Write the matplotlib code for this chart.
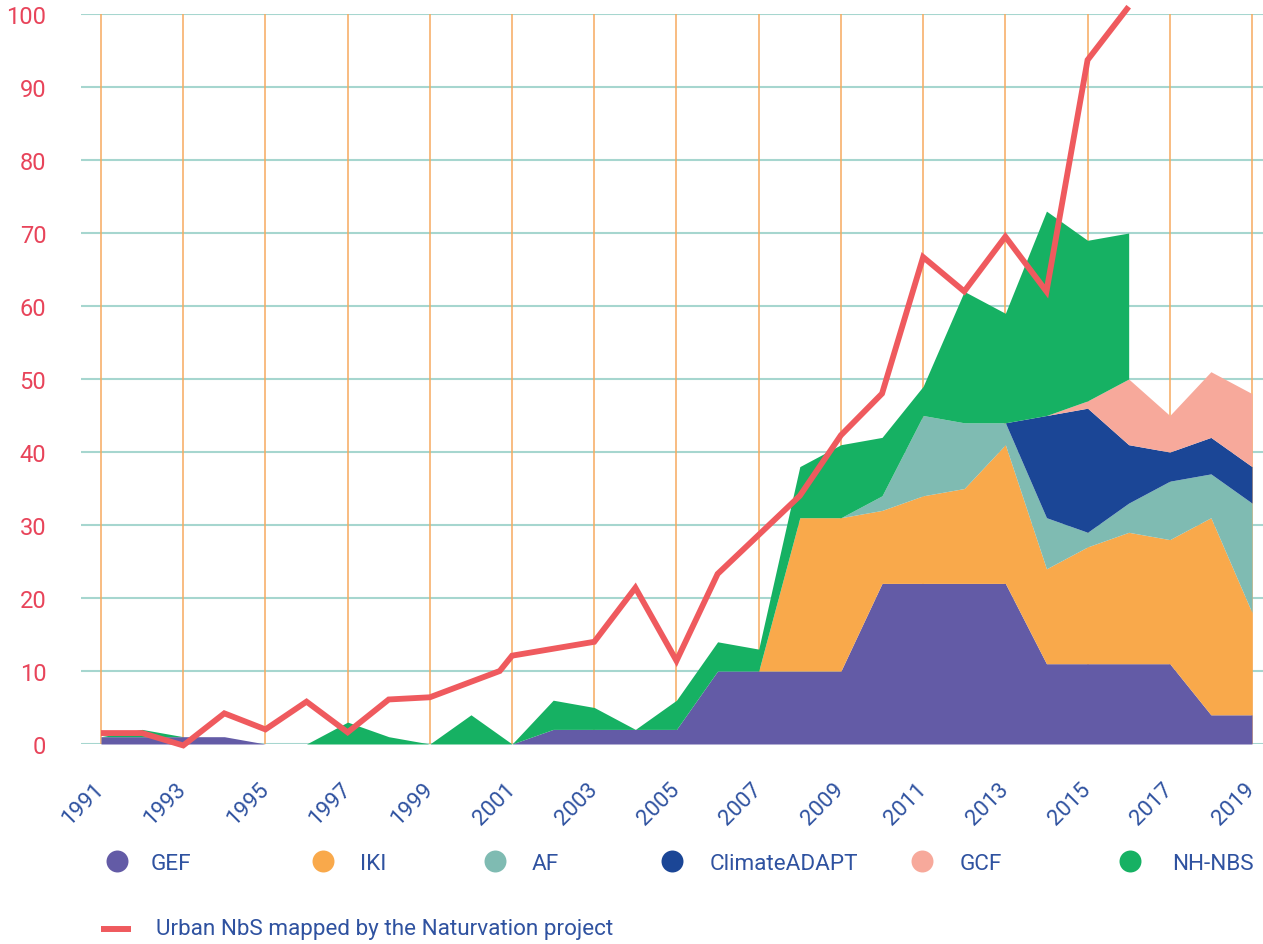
import numpy as np
import matplotlib
matplotlib.use("Agg")
import matplotlib.pyplot as plt

plt.rcParams['font.family'] = ['Roboto', 'DejaVu Sans']

# data
years = np.arange(1991, 2020)
gef = [1, 1, 1, 1, 0, 0, 0, 0, 0, 0, 0, 2, 2, 2, 2, 10, 10, 10, 10,
       22, 22, 22, 22, 11, 11, 11, 11, 4, 4]
iki = [0] * 17 + [21, 21, 10, 12, 13, 19, 13, 16, 18, 17, 27, 14]
af = [0] * 19 + [2, 11, 9, 3, 7, 2, 4, 8, 6, 15]
climate_adapt = [0] * 23 + [14, 17, 8, 4, 5, 5]
gcf = [0] * 24 + [1, 9, 5, 9, 10]
nh_nbs = [0, 1, 0, 0, 0, 0, 3, 1, 0, 4, 0, 4, 3, 0, 4, 4, 3, 7, 10, 8,
          4, 18, 15, 28, 22, 20, np.nan, np.nan, np.nan]

red_years = [1991, 1992, 1993, 1994, 1995, 1996, 1997, 1998, 1999, 2000.7,
             2001, 2003, 2004, 2005, 2006, 2008, 2009, 2010, 2011, 2012,
             2013, 2014, 2015, 2016]
red_vals = [1.5, 1.5, -0.2, 4.2, 2.0, 5.8, 1.6, 6.1, 6.4, 10.0,
            12.1, 14.0, 21.4, 11.4, 23.3, 34.0, 42.3, 48.0, 66.7, 62.0,
            69.5, 62.0, 93.7, 101.0]

names = ['GEF', 'IKI', 'AF', 'ClimateADAPT', 'GCF', 'NH-NBS']
colors = ['#635ba6', '#f9a94b', '#7fbbb2', '#1b4696', '#f7a99b', '#16b163']
red = '#ef5a5e'
blue_txt = '#2f52a0'

fig = plt.figure(figsize=(12.63, 9.45), dpi=100)
ax = fig.add_axes([81 / 1263, 1 - 745 / 945, 1 - 81 / 1263, 730 / 945])

layers = [gef, iki, af, climate_adapt, gcf, nh_nbs]
base = np.zeros(len(years))
for vals, c in zip(layers, colors):
    v = np.array(vals, dtype=float)
    top = base + v
    ax.fill_between(years, base, top, color=c, lw=0, zorder=3)
    base = base + np.nan_to_num(v)

ax.plot(red_years, red_vals, color=red, lw=4.2, zorder=5,
        solid_capstyle='butt', solid_joinstyle='miter', clip_on=False)

for yr in range(1991, 2020, 2):
    ax.axvline(yr, color='#f6a95f', lw=1.1, zorder=1)

ax.set_xlim(1991 - 20 / 41.107, 1991 + 1182 / 41.107 - 20 / 41.107)
ax.set_ylim(0, 100)
ax.set_yticks(range(0, 101, 10))
ax.yaxis.grid(True, color='#a6d6cf', lw=1.5, zorder=0)
ax.set_axisbelow(True)
for s in ax.spines.values():
    s.set_visible(False)

ax.tick_params(axis='y', length=0, pad=25, labelsize=17, labelcolor='#e8445a')
ax.set_xticks(range(1991, 2020, 2))
ax.set_xticklabels([str(y) for y in range(1991, 2020, 2)])
ax.tick_params(axis='x', length=0, pad=30, labelsize=16, labelcolor=blue_txt)
for lab in ax.get_xticklabels():
    lab.set_rotation(45)
    lab.set_ha('right')
    lab.set_va('center')
    lab.set_rotation_mode('anchor')

# legend drawn in pixel coordinates
lax = fig.add_axes([0, 0, 1, 1])
lax.set_xlim(0, 1263)
lax.set_ylim(945, 0)
lax.axis('off')
lax.patch.set_alpha(0)
dot_x = [117, 323, 495, 672, 922, 1130]
txt_x = [151, 360, 532, 710, 960, 1172]
for n, c, dx, tx in zip(names, colors, dot_x, txt_x):
    lax.scatter([dx], [862], s=250, color=c, lw=0)
    lax.text(tx, 864, n, color=blue_txt, fontsize=16.2,
             va='center', ha='left')
lax.plot([101, 131], [930, 930], color=red, lw=4.3, solid_capstyle='butt')
lax.text(156, 929, 'Urban NbS mapped by the Naturvation project', color=blue_txt,
         fontsize=16.2, va='center', ha='left')

fig.savefig('out.png', dpi=100)
